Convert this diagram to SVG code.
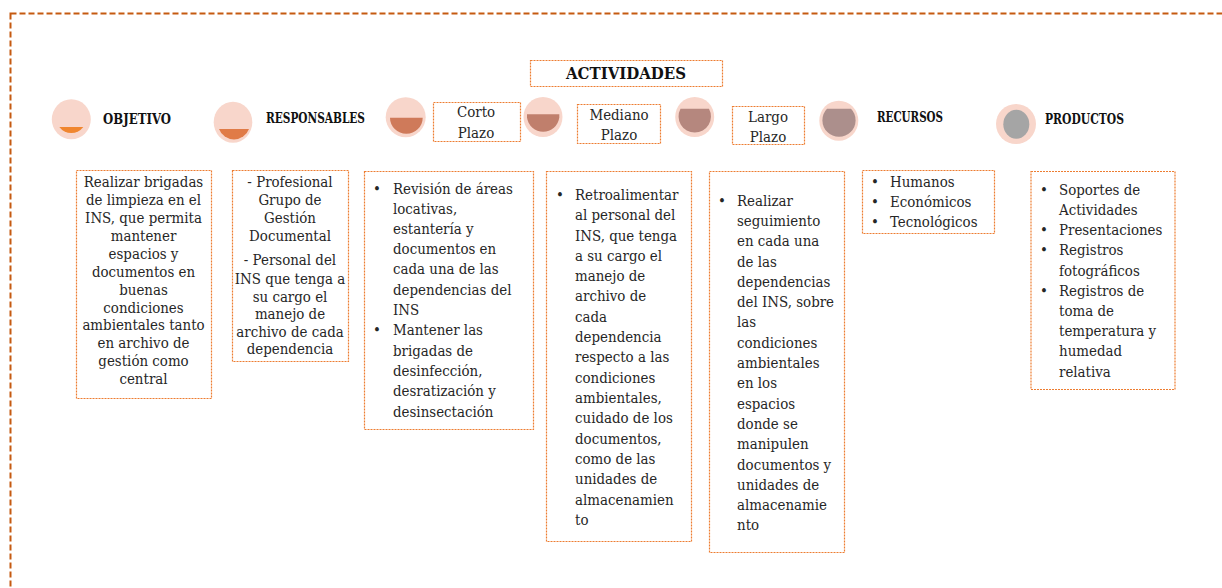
<svg xmlns="http://www.w3.org/2000/svg" width="1222" height="588" viewBox="0 0 1222 588">
<style>
text{font-family:"DejaVu Serif Condensed","DejaVu Serif","Liberation Serif",serif;font-size:14.9px;fill:#262626}
.c{text-anchor:middle}
text.h{font-family:"DejaVu Serif Condensed","Liberation Serif",serif;font-weight:700;fill:#111;font-size:14px}
.b{fill:#fff;stroke:#ed7d31;stroke-width:1.2;stroke-dasharray:2 1}
.o{fill:#f8d6cb}
</style>
<rect id="frame" x="10.500" y="13.500" width="1230" height="600" fill="none" stroke="#c55a11" stroke-width="2" stroke-dasharray="6 3"/>
<g id="actividades"><rect class="b" x="530.500" y="60.500" width="192" height="26"/><text class="c" x="626" y="79" textLength="120" lengthAdjust="spacingAndGlyphs" style="font-family:'DejaVu Serif Condensed';font-weight:700;font-size:16.5px;fill:#111">ACTIVIDADES</text></g>
<g id="objetivo"><ellipse class="o" cx="71.300" cy="119.300" rx="19.500" ry="20"/><path d="M59.300 127H83.300A15 15 0 0 1 59.300 127Z" fill="#f0862f"/><text class="h" x="103" y="124" textLength="68" lengthAdjust="spacingAndGlyphs">OBJETIVO</text></g>
<g id="responsables"><ellipse class="o" cx="233" cy="122.200" rx="19.300" ry="20.500"/><path d="M219 129H249A16 16 0 0 1 219 129Z" fill="#e07b47"/><text class="h" x="266" y="123" textLength="99" lengthAdjust="spacingAndGlyphs">RESPONSABLES</text></g>
<g id="corto"><circle class="o" cx="405.700" cy="117.200" r="20"/><path d="M390 117.700H422.700A16.350 16 0 0 1 390 117.700Z" fill="#cf7a5a"/><rect class="b" x="433.500" y="102.500" width="87" height="39"/><text class="c" x="476" y="117">Corto</text><text class="c" x="476" y="138">Plazo</text></g>
<g id="mediano"><ellipse class="o" cx="543" cy="117" rx="19.500" ry="20"/><path d="M527 114.300H559.300V117.500A16.300 16.500 0 0 1 527 117.500Z" fill="#c07f6c"/><rect class="b" x="577.500" y="104.500" width="83" height="39"/><text class="c" x="619" y="120">Mediano</text><text class="c" x="619" y="140">Plazo</text></g>
<g id="largo"><ellipse class="o" cx="694.700" cy="117" rx="19.500" ry="20"/><path d="M680.500 108.700H709A16.200 16.200 0 1 1 680.500 108.700Z" fill="#b5877e"/><rect class="b" x="732.500" y="106.500" width="72" height="38"/><text class="c" x="768" y="122">Largo</text><text class="c" x="768" y="142">Plazo</text></g>
<g id="recursos"><ellipse class="o" cx="838.800" cy="120.700" rx="19.500" ry="20"/><path d="M827 108.700H851A16.600 16.600 0 1 1 827 108.700Z" fill="#ac8f8c"/><text class="h" x="877" y="122" textLength="66" lengthAdjust="spacingAndGlyphs">RECURSOS</text></g>
<g id="productos"><circle class="o" cx="1016" cy="124" r="20"/><ellipse cx="1016.300" cy="124.200" rx="13" ry="14.500" fill="#a5a5a5"/><text class="h" x="1045" y="124" textLength="79" lengthAdjust="spacingAndGlyphs">PRODUCTOS</text></g>
<g id="t-objetivo"><rect class="b" x="76.500" y="170.500" width="135" height="228"/>
<text class="c"><tspan x="143.500" y="187">Realizar brigadas</tspan><tspan x="143.500" y="205">de limpieza en el</tspan><tspan x="143.500" y="223">INS, que permita</tspan><tspan x="143.500" y="241">mantener</tspan><tspan x="143.500" y="259">espacios y</tspan><tspan x="143.500" y="277">documentos en</tspan><tspan x="143.500" y="294.500">buenas</tspan><tspan x="143.500" y="312.500">condiciones</tspan><tspan x="143.500" y="330">ambientales tanto</tspan><tspan x="143.500" y="348">en archivo de</tspan><tspan x="143.500" y="366">gestión como</tspan><tspan x="143.500" y="383.500">central</tspan></text></g>
<g id="t-responsables"><rect class="b" x="232.500" y="170.500" width="116" height="191"/>
<text class="c"><tspan x="290" y="187">- Profesional</tspan><tspan x="290" y="205">Grupo de</tspan><tspan x="290" y="223">Gestión</tspan><tspan x="290" y="241">Documental</tspan><tspan x="290" y="265">- Personal del</tspan><tspan x="290" y="284">INS que tenga a</tspan><tspan x="290" y="302">su cargo el</tspan><tspan x="290" y="319">manejo de</tspan><tspan x="290" y="337">archivo de cada</tspan><tspan x="290" y="354">dependencia</tspan></text></g>
<g id="t-corto"><rect class="b" x="364.500" y="171.500" width="169" height="258"/>
<text><tspan x="373" y="194">•</tspan><tspan x="393" y="194">Revisión de áreas</tspan><tspan x="393" y="214">locativas,</tspan><tspan x="393" y="234">estantería y</tspan><tspan x="393" y="254">documentos en</tspan><tspan x="393" y="274">cada una de las</tspan><tspan x="393" y="295">dependencias del</tspan><tspan x="393" y="315">INS</tspan><tspan x="373" y="335">•</tspan><tspan x="393" y="335">Mantener las</tspan><tspan x="393" y="356">brigadas de</tspan><tspan x="393" y="376">desinfección,</tspan><tspan x="393" y="396">desratización y</tspan><tspan x="393" y="417">desinsectación</tspan></text></g>
<g id="t-mediano"><rect class="b" x="546.500" y="171.500" width="145" height="370"/>
<text><tspan x="556" y="200">•</tspan><tspan x="575" y="200">Retroalimentar</tspan><tspan x="575" y="220">al personal del</tspan><tspan x="575" y="241">INS, que tenga</tspan><tspan x="575" y="261">a su cargo el</tspan><tspan x="575" y="281">manejo de</tspan><tspan x="575" y="301">archivo de</tspan><tspan x="575" y="322">cada</tspan><tspan x="575" y="342">dependencia</tspan><tspan x="575" y="362">respecto a las</tspan><tspan x="575" y="383">condiciones</tspan><tspan x="575" y="403">ambientales,</tspan><tspan x="575" y="423">cuidado de los</tspan><tspan x="575" y="444">documentos,</tspan><tspan x="575" y="464">como de las</tspan><tspan x="575" y="484">unidades de</tspan><tspan x="575" y="505">almacenamien</tspan><tspan x="575" y="525">to</tspan></text></g>
<g id="t-largo"><rect class="b" x="709.500" y="171.500" width="135" height="381"/>
<text><tspan x="718" y="206">•</tspan><tspan x="737" y="206">Realizar</tspan><tspan x="737" y="226">seguimiento</tspan><tspan x="737" y="246">en cada una</tspan><tspan x="737" y="267">de las</tspan><tspan x="737" y="287">dependencias</tspan><tspan x="737" y="307">del INS, sobre</tspan><tspan x="737" y="327">las</tspan><tspan x="737" y="348">condiciones</tspan><tspan x="737" y="368">ambientales</tspan><tspan x="737" y="388">en los</tspan><tspan x="737" y="409">espacios</tspan><tspan x="737" y="429">donde se</tspan><tspan x="737" y="449">manipulen</tspan><tspan x="737" y="470">documentos y</tspan><tspan x="737" y="490">unidades de</tspan><tspan x="737" y="510">almacenamie</tspan><tspan x="737" y="530">nto</tspan></text></g>
<g id="t-recursos"><rect class="b" x="862.500" y="170.500" width="132" height="63"/>
<text><tspan x="871" y="187">•</tspan><tspan x="890" y="187">Humanos</tspan><tspan x="871" y="207">•</tspan><tspan x="890" y="207">Económicos</tspan><tspan x="871" y="227">•</tspan><tspan x="890" y="227">Tecnológicos</tspan></text></g>
<g id="t-productos"><rect class="b" x="1031" y="171.500" width="144" height="218"/>
<text><tspan x="1040" y="195">•</tspan><tspan x="1059" y="195">Soportes de</tspan><tspan x="1059" y="215">Actividades</tspan><tspan x="1040" y="235">•</tspan><tspan x="1059" y="235">Presentaciones</tspan><tspan x="1040" y="255">•</tspan><tspan x="1059" y="255">Registros</tspan><tspan x="1059" y="276">fotográficos</tspan><tspan x="1040" y="296">•</tspan><tspan x="1059" y="296">Registros de</tspan><tspan x="1059" y="316">toma de</tspan><tspan x="1059" y="336">temperatura y</tspan><tspan x="1059" y="356">humedad</tspan><tspan x="1059" y="377">relativa</tspan></text></g>
</svg>
